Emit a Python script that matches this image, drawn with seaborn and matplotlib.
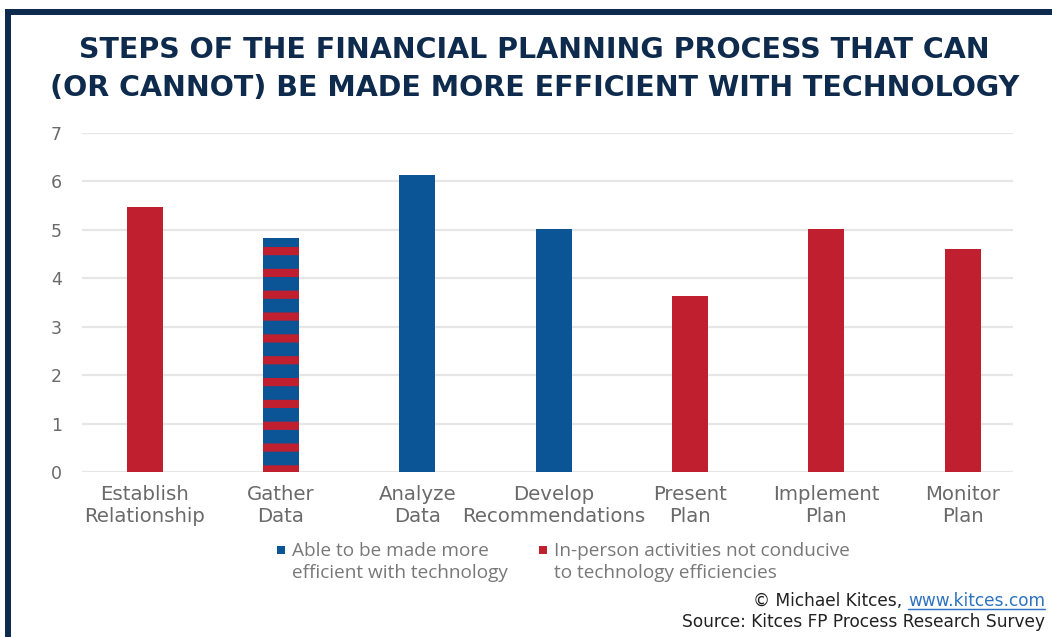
import matplotlib
matplotlib.use("Agg")
import matplotlib.pyplot as plt
import seaborn as sns
import pandas as pd
from matplotlib.patches import Rectangle
from matplotlib.lines import Line2D

# ---- data ----
steps = ["Establish\nRelationship", "Gather\nData", "Analyze\nData",
         "Develop\nRecommendations", "Present\nPlan", "Implement\nPlan", "Monitor\nPlan"]
scores = [5.47, 4.83, 6.13, 5.02, 3.63, 5.02, 4.60]
groups = ["person", "tech", "tech", "tech", "person", "person", "person"]
mixed_step = "Gather\nData"
legend_labels = ["Able to be made more\nefficient with technology",
                 "In-person activities not conducive\nto technology efficiencies"]
y_ticks = [0, 1, 2, 3, 4, 5, 6, 7]
title = "STEPS OF THE FINANCIAL PLANNING PROCESS THAT CAN\n(OR CANNOT) BE MADE MORE EFFICIENT WITH TECHNOLOGY"
credit_a = "© Michael Kitces, "
credit_link = "www.kitces.com"
source = "Source: Kitces FP Process Research Survey"

BLUE = "#0b5495"
RED = "#c01f2f"
NAVY = "#0e2b4d"
GRID = "#e6e6e6"
TICK = "#6a6a6a"

df = pd.DataFrame({"step": steps, "score": scores, "group": groups})

sns.set_theme(style="white")
plt.rcParams["font.family"] = ["DejaVu Sans"]
plt.rcParams["hatch.linewidth"] = 4.5

DPI = 131.5
W, H = 1052, 637
fig = plt.figure(figsize=(W / DPI, H / DPI), dpi=DPI)
ax = fig.add_axes([82 / W, 1 - 472 / H, (1013 - 82) / W, (472 - 133) / H])

sns.barplot(data=df, x="step", y="score", hue="group",
            palette={"tech": BLUE, "person": RED}, dodge=False,
            width=0.265, ax=ax, legend=False, saturation=1)

for p in ax.patches:
    p.set_linewidth(0)
# stripe the mixed bar
idx = steps.index(mixed_step)
for p in ax.patches:
    if p.get_height() > 0 and abs(p.get_x() + p.get_width() / 2 - idx) < 0.01:
        p.set_facecolor(BLUE)
        p.set_edgecolor(RED)
        p.set_hatch("-")

ax.set_xlim(-0.46, 6.37)
ax.set_ylim(0, 7)
ax.set_yticks(y_ticks)
ax.yaxis.grid(True, color=GRID, linewidth=1.2)
ax.set_axisbelow(True)
for s in ax.spines.values():
    s.set_visible(False)
ax.set_xlabel("")
ax.set_ylabel("")
ax.tick_params(axis="y", length=0, pad=11, labelsize=9.5, labelcolor=TICK)
ax.tick_params(axis="x", length=0, pad=7, labelsize=10.8, labelcolor=TICK)
for lab in ax.get_xticklabels():
    lab.set_linespacing(1.2)

# title
fig.text(0.508, 1 - 69 / H, title, ha="center", va="center", fontsize=15.6,
         fontweight="bold", color=NAVY, linespacing=1.42)

# legend (square marker aligned with first text line)
leg_items = [(277, 292, BLUE, legend_labels[0]), (539, 554, RED, legend_labels[1])]
for sx, tx, col, lab in leg_items:
    fig.add_artist(Rectangle((sx / W, 1 - 554 / H), 8 / W, 8 / H, transform=fig.transFigure,
                             facecolor=col, edgecolor="none"))
    fig.text(tx / W, 1 - 542 / H, lab, ha="left", va="top", fontsize=10.4,
             family="Open Sans", color="#787878", linespacing=1.32)

# border
fig.add_artist(Rectangle((5 / W, 0), 6 / W, 1 - 9 / H, transform=fig.transFigure,
                         facecolor=NAVY, edgecolor="none"))
fig.add_artist(Rectangle((5 / W, 1 - 15 / H), 1, 6 / H, transform=fig.transFigure,
                         facecolor=NAVY, edgecolor="none"))

# credits
fig.canvas.draw()
r = fig.canvas.get_renderer()
xr = 1045 / W
y1 = 1 - 601 / H
y2 = 1 - 622 / H
tl = fig.text(xr, y1, credit_link, ha="right", va="center", fontsize=9.3, color="#2f74c0")
bb = tl.get_window_extent(r).transformed(fig.transFigure.inverted())
fig.text(bb.x0, y1, credit_a, ha="right", va="center", fontsize=9.3, color="#222222")
fig.add_artist(Line2D([bb.x0, bb.x1], [bb.y0 + 0.002, bb.y0 + 0.002], transform=fig.transFigure,
                      color="#2f74c0", linewidth=0.8))
fig.text(xr, y2, source, ha="right", va="center", fontsize=9.3, color="#222222")

fig.savefig("out.png", dpi=DPI, facecolor="white")
